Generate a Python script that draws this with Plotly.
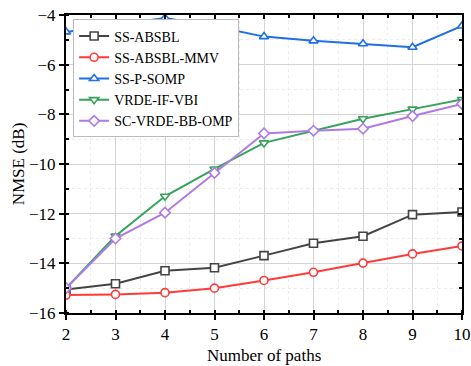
import plotly.graph_objects as go

paths = [2, 3, 4, 5, 6, 7, 8, 9, 10]
ss_absbl = [-15.05, -14.82, -14.3, -14.18, -13.69, -13.19, -12.91, -12.04, -11.93]
ss_absbl_mmv = [-15.28, -15.25, -15.18, -15.0, -14.69, -14.36, -13.99, -13.62, -13.3]
ss_p_somp = [-4.68, -4.4, -4.12, -4.45, -4.87, -5.04, -5.16, -5.3, -4.44]
vrde_if_vbi = [-15.0, -12.9, -11.3, -10.2, -9.15, -8.68, -8.18, -7.79, -7.4]
sc_vrde_bb_omp = [-15.0, -13.0, -11.96, -10.36, -8.77, -8.66, -8.58, -8.07, -7.58]

names = ["SS-ABSBL", "SS-ABSBL-MMV", "SS-P-SOMP", "VRDE-IF-VBI", "SC-VRDE-BB-OMP"]
series = [ss_absbl, ss_absbl_mmv, ss_p_somp, vrde_if_vbi, sc_vrde_bb_omp]
colors = ["#444444", "#ff3a3a", "#1f6fe5", "#35a35a", "#b07ae6"]
symbols = ["square", "circle", "triangle-up", "triangle-down", "diamond"]

fig = go.Figure()
for n, s, c, m in zip(names, series, colors, symbols):
    fig.add_trace(go.Scatter(
        x=paths, y=s, name=n, mode="lines+markers",
        line=dict(color=c, width=2),
        marker=dict(symbol=m, size=8, color="white", line=dict(color=c, width=1.6)),
    ))

font_family = "Liberation Serif, Times New Roman, serif"
fig.update_layout(
    width=471, height=366,
    margin=dict(l=66, r=9, t=15, b=53),
    paper_bgcolor="white", plot_bgcolor="white",
    font=dict(family=font_family, size=17, color="black"),
    showlegend=True,
    legend=dict(
        x=0.018, y=0.985, xanchor="left", yanchor="top",
        bgcolor="white", bordercolor="#bbbbbb", borderwidth=1,
        font=dict(family=font_family, size=14, color="black"),
        tracegroupgap=0, itemwidth=30,
    ),
    xaxis=dict(
        range=[2, 10], dtick=1, tick0=2, automargin=False,
        showline=True, linecolor="black", linewidth=2,
        ticks="outside", ticklen=5, tickwidth=1.5, tickcolor="black",
        ticklabelstandoff=0,
        showgrid=True, gridcolor="#d4d4d4", gridwidth=1,
        minor=dict(dtick=0.5, ticks="inside", ticklen=3, tickcolor="black",
                   showgrid=True, gridcolor="#ececec", griddash="dot"),
        zeroline=False,
        tickfont=dict(size=17),
    ),
    yaxis=dict(
        range=[-16, -4], dtick=2, tick0=-16, automargin=False,
        showline=True, linecolor="black", linewidth=2,
        ticks="outside", ticklen=5, tickwidth=1.5, tickcolor="black",
        showgrid=True, gridcolor="#d4d4d4", gridwidth=1,
        minor=dict(dtick=1, ticks="inside", ticklen=3, tickcolor="black",
                   showgrid=True, gridcolor="#ececec", griddash="dot"),
        zeroline=False,
        title=dict(text="NMSE (dB)", font=dict(size=17), standoff=0),
        tickfont=dict(size=17),
        tickformat="d",
    ),
    xaxis2=dict(
        overlaying="x", side="top", range=[2, 10], dtick=1, tick0=2, automargin=False,
        showline=True, linecolor="black", linewidth=1.5,
        ticks="inside", ticklen=4, tickwidth=1.5, tickcolor="black",
        showticklabels=False, showgrid=False, zeroline=False,
        minor=dict(dtick=0.5, ticks="inside", ticklen=3, tickcolor="black"),
    ),
    yaxis2=dict(
        overlaying="y", side="right", range=[-16, -4], dtick=2, tick0=-16, automargin=False,
        showline=True, linecolor="black", linewidth=1.5,
        ticks="inside", ticklen=4, tickwidth=1.5, tickcolor="black",
        showticklabels=False, showgrid=False, zeroline=False,
        minor=dict(dtick=1, ticks="inside", ticklen=3, tickcolor="black"),
    ),
    annotations=[dict(
        text="Number of paths", xref="paper", yref="paper", x=0.5, y=-0.105,
        xanchor="center", yanchor="top", showarrow=False,
        font=dict(family=font_family, size=17, color="black"),
    )],
)
# invisible trace that activates the mirrored top/right axes
fig.add_trace(go.Scatter(x=[2], y=[-16], xaxis="x2", yaxis="y2", mode="markers",
                         marker=dict(opacity=0), showlegend=False, hoverinfo="skip"))

fig.write_html("out.html")
